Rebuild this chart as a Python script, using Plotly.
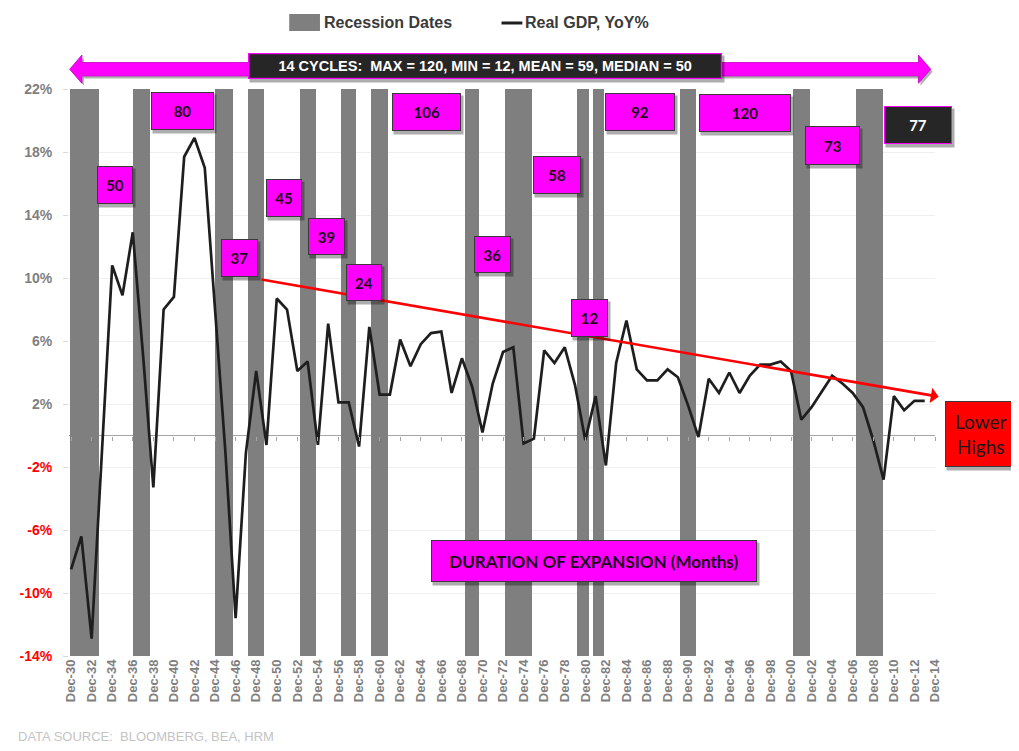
import plotly.graph_objects as go

# ---------------- data ----------------
years = list(range(1930, 2014))
gdp_yoy = [-8.5, -6.4, -12.9, -1.2, 10.8, 8.9, 12.9, 5.1, -3.3, 8.0,
           8.8, 17.7, 18.9, 17.0, 8.0, -1.0, -11.6, -1.1, 4.1, -0.6,
           8.7, 8.0, 4.1, 4.7, -0.6, 7.1, 2.1, 2.1, -0.7, 6.9,
           2.6, 2.6, 6.1, 4.4, 5.8, 6.5, 6.6, 2.7, 4.9, 3.1,
           0.2, 3.3, 5.3, 5.6, -0.5, -0.2, 5.4, 4.6, 5.6, 3.2,
           -0.3, 2.5, -1.9, 4.6, 7.3, 4.2, 3.5, 3.5, 4.2, 3.7,
           1.9, -0.1, 3.6, 2.7, 4.0, 2.7, 3.8, 4.5, 4.5, 4.7,
           4.1, 1.0, 1.8, 2.8, 3.8, 3.3, 2.7, 1.8, -0.3, -2.8,
           2.5, 1.6, 2.2, 2.2]

recession_start = [1929.9, 1936.0, 1944.0, 1947.2, 1952.3, 1956.2, 1959.2,
                   1968.3, 1972.2, 1979.2, 1980.7, 1989.2, 2000.2, 2006.3]
recession_end = [1932.7, 1937.7, 1945.7, 1948.8, 1953.8, 1957.7, 1960.8,
                 1969.7, 1974.8, 1980.4, 1981.8, 1990.8, 2001.8, 2008.9]

expansion_months = [50, 80, 37, 45, 39, 24, 106, 36, 58, 12, 92, 120, 73, 77]

trend_years = [1948.5, 2014.5]
trend_values = [9.9, 2.45]

x_tick_years = list(range(1930, 2015, 2))
x_tick_labels = ["Dec-%02d" % (y % 100) for y in x_tick_years]
y_tick_values = [-14, -10, -6, -2, 2, 6, 10, 14, 18, 22]
y_tick_labels = ["%d%%" % v for v in y_tick_values]

summary_text = "14 CYCLES:  MAX = 120, MIN = 12, MEAN = 59, MEDIAN = 50"

# ---------------- layout geometry (page pixels; page has an 8px body margin) ----------------
OFF = 8
W, H = 1019 - OFF, 751 - 2 * OFF
PL, PR, PT, PB = 62, 935, 89, 656   # plot area in page pixels
X_RANGE = [1929.8, 2014.0]
Y_RANGE = [-14, 22]


def xp(px):
    return (px - PL) / (PR - PL)


def yp(py):
    return (PB - py) / (PB - PT)


FONT = "Liberation Sans, Arial, sans-serif"
CAL = "Lato, Carlito, Calibri, sans-serif"
MAGENTA = "#ff00ff"

# box positions in page pixels: (left, right, top, bottom), one per expansion
box_px = [(90.7, 126.7, 166, 204), (145, 208, 92, 130), (216, 252.7, 239.3, 277.3),
          (260.7, 296.7, 179.3, 217.3), (303, 340, 218, 255), (341.7, 377.3, 264, 301),
          (387.3, 456.7, 92.7, 130.7), (470.7, 507.3, 236, 273.3), (529.3, 577.7, 155.7, 193.3),
          (568.3, 605.7, 299.3, 337.3), (602.7, 672.7, 92.7, 130.7), (697, 789, 94, 132.3),
          (804, 859.3, 126, 165), (884.3, 952.3, 106, 144)]

fig = go.Figure()

# recession bars
fig.add_trace(go.Bar(
    x=[(s + e) / 2 for s, e in zip(recession_start, recession_end)],
    width=[e - s for s, e in zip(recession_start, recession_end)],
    y=[Y_RANGE[1] - Y_RANGE[0]] * len(recession_start),
    base=Y_RANGE[0],
    marker=dict(color="#7f7f7f", line=dict(width=0)),
    name="Recession Dates", showlegend=False, hoverinfo="skip",
))

# GDP line
fig.add_trace(go.Scatter(
    x=years, y=gdp_yoy, mode="lines",
    line=dict(color="#1e1e1e", width=2.7),
    name="Real GDP, YoY%", showlegend=False,
))

# dummy trace for zero-line tick axis
fig.add_trace(go.Scatter(x=[x_tick_years[0]], y=[None], xaxis="x2",
                         showlegend=False, hoverinfo="skip"))

shapes = []
ann = []

# trend arrow
ann.append(dict(
    x=trend_years[0], y=trend_values[0], xref="x", yref="y",
    ax=trend_years[1], ay=trend_values[1], axref="x", ayref="y",
    text="", showarrow=True, arrowside="start", arrowhead=4,
    arrowsize=1.3, arrowwidth=2.6, arrowcolor="#ff0000", standoff=0, startstandoff=0,
))


def add_box(l, r, t, b, text, bg, fg, size, border="#3a3a3a", bw=1, family=CAL, bold=True,
            shadow=True, text_cx=None):
    cx, cy = (l + r) / 2, (t + b) / 2
    w, h = r - l, b - t
    if shadow:
        ann.append(dict(x=xp(cx), y=yp(cy), xref="paper", yref="paper", text="",
                        xanchor="center", yanchor="middle",
                        showarrow=False, width=w, height=h, borderpad=0,
                        bgcolor="rgba(0,0,0,0.32)", xshift=2, yshift=-3))
    txt = "<b>%s</b>" % text if bold else text
    ann.append(dict(x=xp(cx), y=yp(cy), xref="paper", yref="paper",
                    text=txt if text_cx is None else "",
                    xanchor="center", yanchor="middle",
                    showarrow=False, width=w - 2 * bw, height=h - 2 * bw, borderpad=0,
                    bgcolor=bg, bordercolor=border, borderwidth=bw,
                    font=dict(family=family, size=size, color=fg)))
    if text_cx is not None:
        ann.append(dict(x=xp(text_cx), y=yp(cy), xref="paper", yref="paper", text=txt,
                        xanchor="center", yanchor="middle", showarrow=False,
                        font=dict(family=family, size=size, color=fg)))


for i, (m, (l, r, t, b)) in enumerate(zip(expansion_months, box_px)):
    if i == len(expansion_months) - 1:
        add_box(l, r, t, b, str(m), "#262626", "#ffffff", 15, border=MAGENTA)
    else:
        add_box(l, r, t, b, str(m), MAGENTA, "#1c0a1c", 15)

# duration label
add_box(428.3, 754, 539.3, 581.7, "DURATION OF EXPANSION (Months)", MAGENTA, "#1c0a1c", 17)

# lower highs (box runs off the right edge)
add_box(945, 1030, 400.7, 466.7, "Lower<br>Highs", "#ff0000", "#1a1a1a", 19, bold=False,
        text_cx=981)


# double arrow on top
def arrow_path(dx=0, dy=0):
    pts = [(62.7, 69.3), (75, 55), (75, 62.5), (918.3, 62.5), (918.3, 55), (930.7, 69.3),
           (918.3, 83.3), (918.3, 76), (75, 76), (75, 83.3)]
    return "M " + " L ".join("%.5f,%.5f" % (xp(x + dx), yp(y + dy)) for x, y in pts) + " Z"


shapes.append(dict(type="path", xref="paper", yref="paper", path=arrow_path(2, 2.5),
                   fillcolor="rgba(0,0,0,0.3)", line=dict(width=0), layer="above"))
shapes.append(dict(type="path", xref="paper", yref="paper", path=arrow_path(),
                   fillcolor=MAGENTA, line=dict(color="#c000c0", width=0.8), layer="above"))

add_box(244, 718.3, 53.3, 79.3, summary_text, "#262626", "#ffffff", 14.5, border=MAGENTA,
        bw=1.2, family=FONT)

# custom legend
shapes.append(dict(type="rect", xref="paper", yref="paper",
                   x0=xp(284), x1=xp(315), y0=yp(31), y1=yp(14),
                   fillcolor="#7f7f7f", line=dict(width=0)))
ann.append(dict(x=xp(317), y=yp(22.5), xref="paper", yref="paper",
                xanchor="left", yanchor="middle",
                text="Recession Dates", showarrow=False,
                font=dict(family=FONT, size=16, color="#3a3a3a", weight="bold")))
shapes.append(dict(type="line", xref="paper", yref="paper",
                   x0=xp(498), x1=xp(519), y0=yp(23), y1=yp(23),
                   line=dict(color="#1e1e1e", width=3)))
ann.append(dict(x=xp(520), y=yp(22.5), xref="paper", yref="paper",
                xanchor="left", yanchor="middle",
                text="Real GDP, YoY%", showarrow=False,
                font=dict(family=FONT, size=16, color="#3a3a3a", weight="bold")))

# source
ann.append(dict(x=xp(OFF + 1), y=yp(736), xref="paper", yref="paper",
                xanchor="left", yanchor="middle",
                text="DATA SOURCE:  BLOOMBERG, BEA, HRM", showarrow=False,
                font=dict(family=FONT, size=13, color="#c4c4c4")))

y_tick_text = [('<span style="color:#ff0000">%s</span>' % t) if v < 0 else t
               for v, t in zip(y_tick_values, y_tick_labels)]

fig.update_layout(
    width=W, height=H,
    margin=dict(l=PL - OFF, r=W - (PR - OFF), t=PT - OFF, b=H - (PB - OFF), pad=0),
    paper_bgcolor="white", plot_bgcolor="white",
    bargap=0,
    shapes=shapes, annotations=ann,
    xaxis=dict(range=X_RANGE, tickvals=x_tick_years, ticktext=x_tick_labels,
               tickangle=-90, showgrid=False, zeroline=False, showline=False,
               ticks="", tickfont=dict(family=FONT, size=13, color="#7f7f7f", weight="bold")),
    xaxis2=dict(range=X_RANGE, overlaying="x", anchor="free",
                position=(0 - Y_RANGE[0]) / (Y_RANGE[1] - Y_RANGE[0]),
                tickvals=x_tick_years, ticks="outside", ticklen=4, tickcolor="#a6a6a6",
                showticklabels=False, showgrid=False, zeroline=False, showline=False),
    yaxis=dict(range=Y_RANGE, tickvals=y_tick_values, ticktext=y_tick_text,
               showgrid=True, gridcolor="#efefef", gridwidth=1,
               zeroline=True, zerolinecolor="#a6a6a6", zerolinewidth=1,
               ticks="outside", ticklen=5, tickcolor="#d9d9d9",
               ticklabelstandoff=8,
               tickfont=dict(family=FONT, size=14, color="#7f7f7f", weight="bold")),
    showlegend=False,
)

fig.write_html("out.html")
